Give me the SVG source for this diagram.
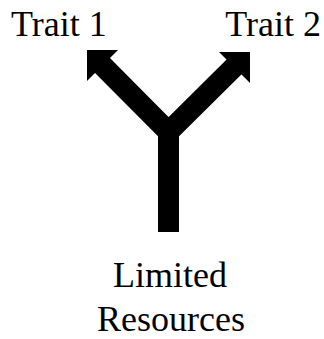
<svg xmlns="http://www.w3.org/2000/svg" width="324" height="339" viewBox="0 0 324 339">
<style>
.lbl{font-family:"Liberation Serif","Times New Roman",serif;font-size:36px;fill:#000}
.shaft{stroke:#000;stroke-width:21;fill:none}
</style>
<rect width="324" height="339" fill="#fff"/>
<g id="connectors">
<path class="shaft" d="M168.5 232 V132"/>
<path class="shaft" d="M102 65 L168.5 132 L235 66" stroke-linejoin="miter"/>
<polygon points="87,50 118,50 87,81" fill="#000"/>
<polygon points="250,52 219,52 250,83" fill="#000"/>
</g>
<g id="trait1"><text class="lbl" x="11" y="36">Trait 1</text></g>
<g id="trait2"><text class="lbl" x="321" y="36" text-anchor="end">Trait 2</text></g>
<g id="limited"><text class="lbl" x="170" y="287" text-anchor="middle">Limited</text><text class="lbl" x="171" y="331" text-anchor="middle">Resources</text></g>
</svg>
